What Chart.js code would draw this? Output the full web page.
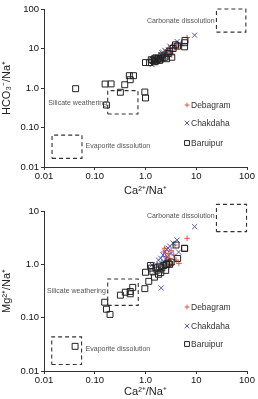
<!DOCTYPE html>
<html><head><meta charset="utf-8">
<script src="https://cdn.jsdelivr.net/npm/chart.js@4.4.1/dist/chart.umd.min.js"></script>
<style>
html,body{margin:0;padding:0;background:#fff;}
#w1{position:absolute;left:0;top:0;width:258px;height:198px;}
#w2{position:absolute;left:0;top:198px;width:258px;height:201px;}
</style></head>
<body>
<div id="w1"><canvas id="c1"></canvas></div>
<div id="w2"><canvas id="c2"></canvas></div>
<script>
// ---- data ----
const seriesNames = ['Debagram', 'Chakdaha', 'Baruipur'];
const xTickValues = [0.01, 0.1, 1, 10, 100];
const xTickLabels = ['0.01', '0.10', '1.0', '10', '100'];
const topYTickValues = [0.01, 0.1, 1, 10, 100];
const topYTickLabels = ['0.01', '0.10', '1.0', '10', '100'];
const botYTickValues = [0.01, 0.1, 1, 10];
const botYTickLabels = ['0.01', '0.10', '1.0', '10'];

// Top: HCO3/Na vs Ca/Na
const topDebagram = [[6.6,19],[4.0,13],[3.5,12],[3.0,9],[2.7,8],[2.5,7],[3.3,6.8],[2.2,6],[4.5,11],[5.0,12],[3.8,10],[2.9,10.5],[2.0,6.5],[3.1,7.5],[1.8,5.3]];
const topChakdaha = [[9.3,21.7],[4.2,15],[1.35,3.9],[1.5,4.5],[1.8,6],[2.0,7],[2.2,8],[2.5,8.5],[2.8,9],[3.2,10],[3.6,11],[2.3,6.5],[1.9,5.5],[2.6,7.5],[3.0,11.5],[4.5,13],[2.1,7.8],[1.6,5],[2.4,9]];
const topBaruipur = [[0.042,0.96],[0.16,1.26],[0.21,1.27],[0.32,0.78],[0.39,1.21],[0.48,2.05],[0.58,2.05],[0.50,1.62],[0.17,0.37],[0.97,0.79],[1.0,0.56],[1.0,4.4],[1.2,4.4],[1.4,5.0],[1.5,5.5],[1.6,4.8],[1.7,5.2],[1.8,5.6],[1.9,5.0],[2.0,5.4],[2.2,5.8],[2.4,6.0],[2.6,5.5],[3.3,6.0],[2.8,7.5],[3.0,8.5],[3.5,10],[3.9,12.4],[4.3,11.5],[5.9,14],[5.9,11],[6.0,16],[1.5,4.6],[1.3,5.2],[2.1,6.5],[1.6,5.8]];

// Bottom: Mg/Na vs Ca/Na
const botDebagram = [[6.6,3.07],[4.55,1.04],[3.8,2.3],[3.2,1.8],[2.8,1.6],[2.5,1.4],[2.3,1.7],[2.6,1.2],[3.0,1.3],[3.4,1.0],[2.1,1.1],[3.6,1.5],[2.9,0.9],[2.4,2.0],[4.0,1.2]];
const botChakdaha = [[9.3,5.08],[2.04,0.36],[4.2,2.85],[1.35,0.97],[1.6,1.0],[1.8,1.2],[2.0,1.3],[2.2,1.5],[2.4,1.7],[2.6,1.9],[2.8,2.0],[3.0,2.2],[3.5,2.5],[2.3,1.1],[2.7,1.4],[3.2,1.6],[1.9,0.85],[2.5,1.25],[4.5,1.7]];
const botBaruipur = [[0.041,0.029],[0.157,0.195],[0.17,0.144],[0.20,0.115],[0.32,0.264],[0.40,0.30],[0.50,0.28],[0.50,0.31],[0.56,0.37],[0.97,0.35],[1.0,0.71],[1.16,0.48],[1.5,0.575],[1.6,0.86],[1.8,0.65],[2.0,0.70],[2.1,0.86],[2.5,0.77],[2.6,1.0],[2.8,1.05],[3.0,1.0],[4.0,2.3],[4.3,1.29],[5.9,1.99],[5.9,2.0],[1.3,0.85],[1.4,0.72],[1.7,0.78],[2.3,0.95],[3.2,1.1],[1.9,0.9],[1.25,0.95]];

// end-member fields [xmin,xmax,ymin,ymax]
const topCarbonateBox = [25, 95, 26, 100];
const topSilicateBox = [0.18, 0.71, 0.22, 0.86];
const topEvaporiteBox = [0.0144, 0.056, 0.0165, 0.064];
const botCarbonateBox = [25, 98, 4.1, 13.3];
const botSilicateBox = [0.18, 0.72, 0.17, 0.53];
const botEvaporiteBox = [0.0142, 0.055, 0.0132, 0.0436];
const fieldNames = ['Carbonate dissolution', 'Silicate weathering', 'Evaporite dissolution'];

// ---- build ----
const FONT = "'Liberation Sans', Arial, sans-serif";
const pts = a => a.map(p => ({x: p[0], y: p[1]}));
const rect = b => [{x:b[0],y:b[2]},{x:b[1],y:b[2]},{x:b[1],y:b[3]},{x:b[0],y:b[3]},{x:b[0],y:b[2]}];
const styles = [
  {pointStyle:'cross', color:'#e05a44', radius:2.8, width:1},
  {pointStyle:'crossRot', color:'#5b5bb0', radius:3.6, width:1},
  {pointStyle:'rect', color:'#222', radius:4.2, width:1}
];
function scatterDs(label, data, s) {
  return {type:'scatter', label, data: pts(data), pointStyle: s.pointStyle, pointRadius: s.radius,
    pointHoverRadius: s.radius, borderColor: s.color, backgroundColor: 'rgba(0,0,0,0)', pointBorderWidth: s.width, showLine:false};
}
function boxDs(b) {
  return {type:'line', label:'', data: rect(b), borderColor:'#333', borderWidth:1.1, borderDash:[4,3],
    pointRadius:0, fill:false, tension:0, clip:false};
}

const overlay = {
  id:'overlay',
  afterDatasetsDraw(chart, args, opts) {
    const ctx = chart.ctx, xs = chart.scales.x, ys = chart.scales.y;
    ctx.save();
    ctx.fillStyle = '#555';
    ctx.font = "7px " + FONT;
    ctx.textBaseline = 'middle';
    opts.labels.forEach(l => {
      ctx.textAlign = l.align;
      ctx.fillText(l.text, xs.getPixelForValue(l.x), ys.getPixelForValue(l.y));
    });
    // legend
    ctx.font = "8.5px " + FONT;
    ctx.textAlign = 'left';
    const lx = 187;
    opts.legendY.forEach((yy, i) => {
      const s = styles[i];
      ctx.strokeStyle = s.color; ctx.lineWidth = s.width;
      ctx.beginPath();
      const r = s.radius*0.85;
      if (s.pointStyle === 'cross') { ctx.moveTo(lx-r,yy);ctx.lineTo(lx+r,yy);ctx.moveTo(lx,yy-r);ctx.lineTo(lx,yy+r); }
      else if (s.pointStyle === 'crossRot') { const d=r*0.75; ctx.moveTo(lx-d,yy-d);ctx.lineTo(lx+d,yy+d);ctx.moveTo(lx-d,yy+d);ctx.lineTo(lx+d,yy-d); }
      else { const d=r*0.68; ctx.rect(lx-d,yy-d,2*d,2*d); }
      ctx.stroke();
      ctx.fillStyle = '#333';
      ctx.fillText(seriesNames[i], lx + 4, yy + 0.5);
    });
    ctx.restore();
  }
};

function makeChart(id, d, yTickVals, yTickLabels, yTitle, boxes, labels, legendY, padTop, xH) {
  const tickMap = (vals, labs) => (v) => { const i = vals.findIndex(t => Math.abs(Math.log10(t) - Math.log10(v)) < 1e-6); return i >= 0 ? labs[i] : ''; };
  return new Chart(document.getElementById(id), {
    data: {datasets: [
      scatterDs(seriesNames[2], d[2], styles[2]),
      scatterDs(seriesNames[1], d[1], styles[1]),
      scatterDs(seriesNames[0], d[0], styles[0]),
      ...boxes.map(boxDs)
    ]},
    options: {
      responsive:true, maintainAspectRatio:false, animation:false, devicePixelRatio:1,
      layout:{padding:{top:padTop, right:11, left:0, bottom:0}},
      plugins:{legend:{display:false}, tooltip:{enabled:false}, overlay:{labels, legendY}},
      scales:{
        x:{type:'logarithmic', min:0.01, max:100,
          afterBuildTicks: s => { s.ticks = xTickValues.map(v => ({value:v})); },
          afterFit: s => { s.height = xH; },
          ticks:{callback: tickMap(xTickValues, xTickLabels), autoSkip:false, maxRotation:0, color:'#111', font:{family:FONT, size:9.5}, padding:1},
          grid:{display:true, drawOnChartArea:false, drawTicks:true, tickLength:3, color:'#333'},
          border:{display:true, color:'#333', width:1},
          title:{display:true, text:'Ca²⁺/Na⁺', color:'#222', font:{family:FONT, size:11}, padding:{top:0, bottom:0}}
        },
        y:{type:'logarithmic', min:yTickVals[0], max:yTickVals[yTickVals.length-1],
          afterBuildTicks: s => { s.ticks = yTickVals.map(v => ({value:v})); },
          afterFit: s => { s.width = 44; },
          ticks:{callback: tickMap(yTickVals, yTickLabels), autoSkip:false, color:'#111', font:{family:FONT, size:9.5}, padding:2},
          grid:{display:true, drawOnChartArea:false, drawTicks:true, tickLength:3, color:'#333'},
          border:{display:true, color:'#333', width:1},
          title:{display:true, text:yTitle, color:'#222', font:{family:FONT, size:11}, padding:{top:0, bottom:1}}
        }
      }
    },
    plugins:[overlay]
  });
}

makeChart('c1', [topDebagram, topChakdaha, topBaruipur], topYTickValues, topYTickLabels, 'HCO₃⁻/Na⁺',
  [topCarbonateBox, topSilicateBox, topEvaporiteBox],
  [{text:fieldNames[0], x:23, y:50, align:'right'},
   {text:fieldNames[1], x:0.175, y:0.41, align:'right'},
   {text:fieldNames[2], x:0.066, y:0.033, align:'left'}],
  [105, 123, 143], 9, 31);

makeChart('c2', [botDebagram, botChakdaha, botBaruipur], botYTickValues, botYTickLabels, 'Mg²⁺/Na⁺',
  [botCarbonateBox, botSilicateBox, botEvaporiteBox],
  [{text:fieldNames[0], x:23, y:8.1, align:'right'},
   {text:fieldNames[1], x:0.165, y:0.32, align:'right'},
   {text:fieldNames[2], x:0.066, y:0.026, align:'left'}],
  [109, 128, 146], 13, 28);
</script>
</body></html>
